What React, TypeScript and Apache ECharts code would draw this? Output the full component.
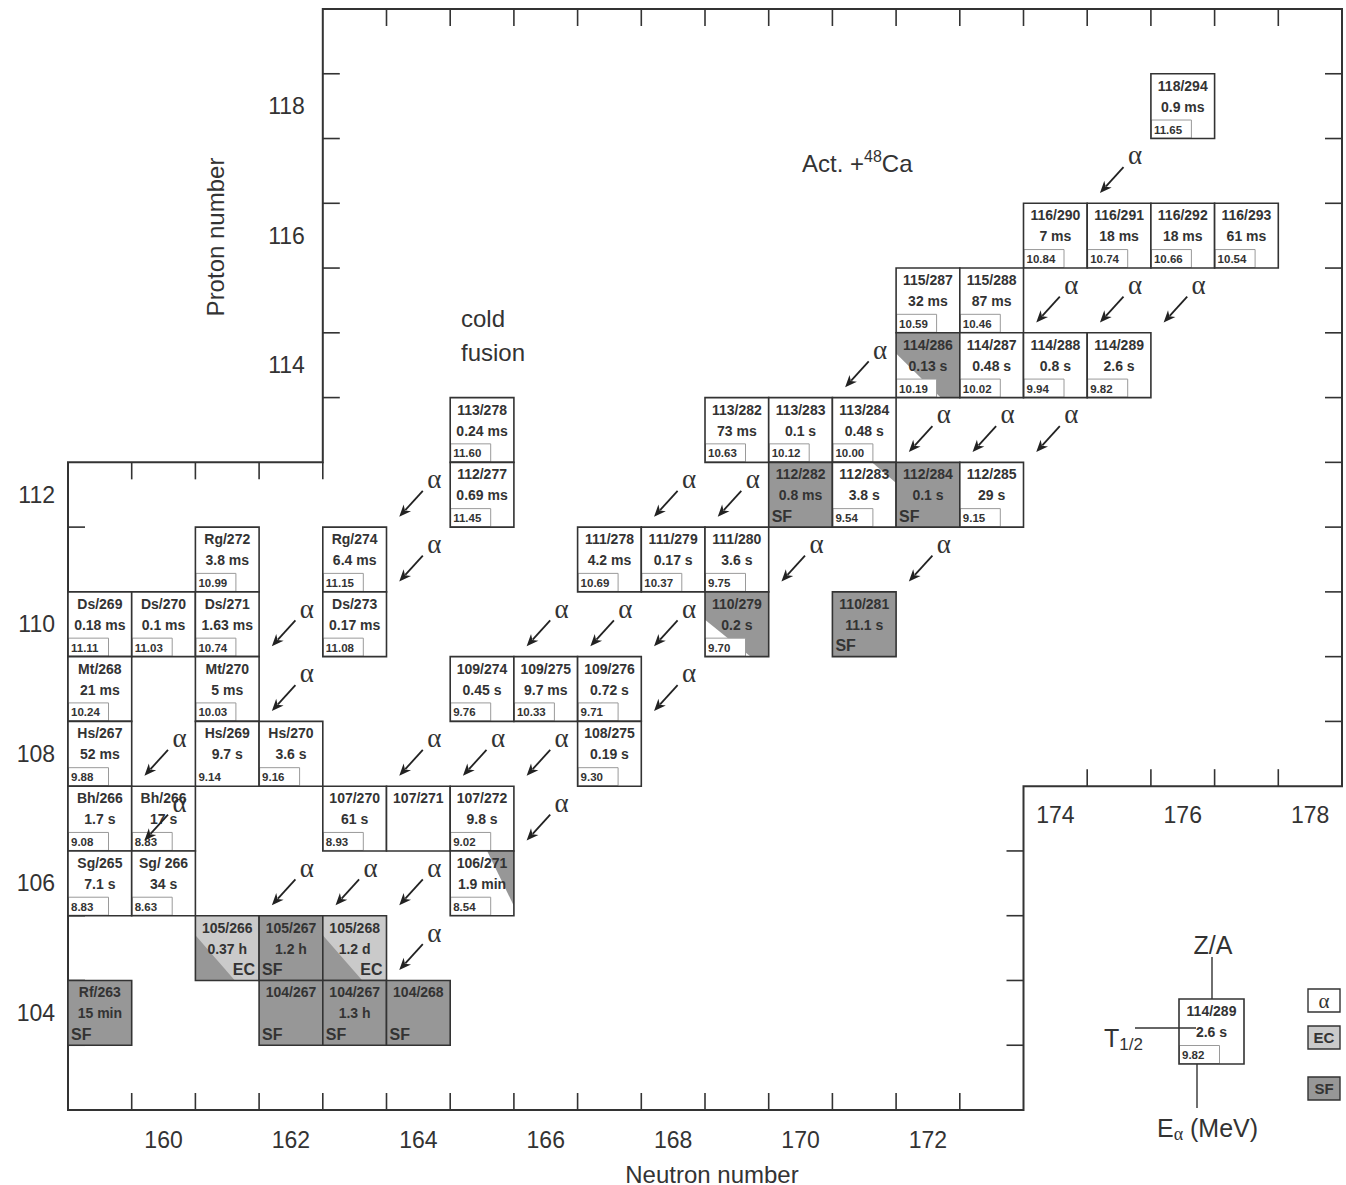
import React, { useEffect, useRef } from "react";
import * as echarts from "echarts";

// Nuclides: [label, neutron number N, proton number Z, half-life, E_alpha (MeV), decay style]
type Nuclide = [string, number, number, string, string, string];

const nuclides: Nuclide[] = [
  ["118/294", 176, 118, "0.9 ms", "11.65", "A"],
  ["116/290", 174, 116, "7 ms", "10.84", "A"],
  ["116/291", 175, 116, "18 ms", "10.74", "A"],
  ["116/292", 176, 116, "18 ms", "10.66", "A"],
  ["116/293", 177, 116, "61 ms", "10.54", "A"],
  ["115/287", 172, 115, "32 ms", "10.59", "A"],
  ["115/288", 173, 115, "87 ms", "10.46", "A"],
  ["114/286", 172, 114, "0.13 s", "10.19", "SFA1"],
  ["114/287", 173, 114, "0.48 s", "10.02", "A"],
  ["114/288", 174, 114, "0.8 s", "9.94", "A"],
  ["114/289", 175, 114, "2.6 s", "9.82", "A"],
  ["113/278", 165, 113, "0.24 ms", "11.60", "A"],
  ["113/282", 169, 113, "73 ms", "10.63", "A"],
  ["113/283", 170, 113, "0.1 s", "10.12", "A"],
  ["113/284", 171, 113, "0.48 s", "10.00", "A"],
  ["112/277", 165, 112, "0.69 ms", "11.45", "A"],
  ["112/282", 170, 112, "0.8 ms", "", "SF"],
  ["112/283", 171, 112, "3.8 s", "9.54", "AT"],
  ["112/284", 172, 112, "0.1 s", "", "SF"],
  ["112/285", 173, 112, "29 s", "9.15", "A"],
  ["Rg/272", 161, 111, "3.8 ms", "10.99", "A"],
  ["Rg/274", 163, 111, "6.4 ms", "11.15", "A"],
  ["111/278", 167, 111, "4.2 ms", "10.69", "A"],
  ["111/279", 168, 111, "0.17 s", "10.37", "A"],
  ["111/280", 169, 111, "3.6 s", "9.75", "A"],
  ["Ds/269", 159, 110, "0.18 ms", "11.11", "A"],
  ["Ds/270", 160, 110, "0.1 ms", "11.03", "A"],
  ["Ds/271", 161, 110, "1.63 ms", "10.74", "A"],
  ["Ds/273", 163, 110, "0.17 ms", "11.08", "A"],
  ["110/279", 169, 110, "0.2 s", "9.70", "SFA2"],
  ["110/281", 171, 110, "11.1 s", "", "SF"],
  ["Mt/268", 159, 109, "21 ms", "10.24", "A"],
  ["Mt/270", 161, 109, "5 ms", "10.03", "A"],
  ["109/274", 165, 109, "0.45 s", "9.76", "A"],
  ["109/275", 166, 109, "9.7 ms", "10.33", "A"],
  ["109/276", 167, 109, "0.72 s", "9.71", "A"],
  ["Hs/267", 159, 108, "52 ms", "9.88", "A"],
  ["Hs/269", 161, 108, "9.7 s", "9.14", "A"],
  ["Hs/270", 162, 108, "3.6 s", "9.16", "A"],
  ["108/275", 167, 108, "0.19 s", "9.30", "A"],
  ["Bh/266", 159, 107, "1.7 s", "9.08", "A"],
  ["Bh/266", 160, 107, "17 s", "8.83", "A"],
  ["107/270", 163, 107, "61 s", "8.93", "A"],
  ["107/271", 164, 107, "", "", "A"],
  ["107/272", 165, 107, "9.8 s", "9.02", "A"],
  ["Sg/265", 159, 106, "7.1 s", "8.83", "A"],
  ["Sg/ 266", 160, 106, "34 s", "8.63", "A"],
  ["106/271", 165, 106, "1.9 min", "8.54", "AR"],
  ["105/266", 161, 105, "0.37 h", "", "EC"],
  ["105/267", 162, 105, "1.2 h", "", "SF"],
  ["105/268", 163, 105, "1.2 d", "", "EC"],
  ["Rf/263", 159, 104, "15 min", "", "SF"],
  ["104/267", 162, 104, "", "", "SF"],
  ["104/267", 163, 104, "1.3 h", "", "SF"],
  ["104/268", 164, 104, "", "", "SF"],
];

// Energies printed without a frame
const unboxedEnergy = ["Hs/269"];

// Parents (N, Z) of the drawn alpha-decay arrows
const alphaParents: [number, number][] = [
  [176, 118], [175, 116], [176, 116], [177, 116], [172, 115],
  [173, 114], [174, 114], [175, 114], [165, 113], [169, 113],
  [170, 113], [165, 112], [171, 112], [173, 112], [163, 111],
  [167, 111], [168, 111], [169, 111], [163, 110], [169, 110],
  [161, 109], [165, 109], [166, 109], [167, 109], [161, 108],
  [167, 108], [163, 107], [164, 107], [165, 107], [165, 106],
];

const bottomTickLabels = [160, 162, 164, 166, 168, 170, 172];
const stepTickLabels = [174, 176, 178];
const lowerProtonLabels = [104, 106, 108, 110, 112];
const upperProtonLabels = [114, 116, 118];

// Staircase outline of the chart area (N, Z)
const frameCorners: [number, number][] = [
  [158.5, 112.5], [162.5, 112.5], [162.5, 119.5], [178.5, 119.5],
  [178.5, 107.5], [173.5, 107.5], [173.5, 102.5], [158.5, 102.5],
];

// Tick rows along the outline: [orientation, fixed coord, from, to, inward pixel sign]
const tickEdges: [string, number, number, number, number][] = [
  ["h", 102.5, 159.5, 172.5, -1],
  ["v", 158.5, 103.5, 111.5, 1],
  ["h", 112.5, 159.5, 162.5, 1],
  ["v", 162.5, 113.5, 118.5, 1],
  ["h", 119.5, 163.5, 177.5, 1],
  ["v", 178.5, 108.5, 118.5, -1],
  ["h", 107.5, 174.5, 177.5, -1],
  ["v", 173.5, 103.5, 106.5, -1],
];

const DARK = "#979797";
const LIGHT = "#cacaca";
const INK = "#333333";
const SANS = '"Liberation Sans", Arial, sans-serif';
const SERIF = '"Liberation Serif", "Times New Roman", serif';

// Partly shaded cells: base colour plus a triangle given in cell fractions
const partialShade: Record<string, { base: string; tri: string; pts: number[][] }> = {
  SFA1: { base: DARK, tri: "#ffffff", pts: [[0, 0.32], [0, 1], [0.7, 1]] },
  SFA2: { base: DARK, tri: "#ffffff", pts: [[0, 0.43], [0, 1], [0.72, 1]] },
  AT: { base: "#ffffff", tri: DARK, pts: [[0.62, 0], [1, 0], [1, 0.32]] },
  AR: { base: "#ffffff", tri: DARK, pts: [[0.58, 0], [1, 0], [1, 0.85]] },
  EC: { base: LIGHT, tri: DARK, pts: [[0, 0.3], [0, 1], [0.62, 1]] },
};

function txt(x: number, y: number, text: string, font: string, align = "center", vAlign = "middle", fill = INK): any {
  return {
    type: "text",
    x,
    y,
    style: { text, font, fill, align, verticalAlign: vAlign, textAlign: align, textVerticalAlign: vAlign },
  };
}

function cellElements(x: number, y: number, w: number, h: number, d: Nuclide): any[] {
  const [label, , , half, energy, mode] = d;
  const els: any[] = [];
  const shade = partialShade[mode];
  let base = "#ffffff";
  if (mode === "SF") base = DARK;
  if (shade) base = shade.base;
  els.push({ type: "rect", shape: { x, y, width: w, height: h }, style: { fill: base } });
  if (shade) {
    els.push({
      type: "polygon",
      shape: { points: shade.pts.map(([u, v]) => [x + u * w, y + v * h]) },
      style: { fill: shade.tri },
    });
  }
  if (energy) {
    if (unboxedEnergy.indexOf(label) < 0) {
      els.push({
        type: "rect",
        shape: { x: x + 0.5, y: y + h - 18.5, width: 40, height: 18 },
        style: { fill: "#ffffff", stroke: "#9a9a9a", lineWidth: 1 },
      });
    }
    els.push(txt(x + 3, y + h - 9, energy, `bold 11.5px ${SANS}`, "left"));
  }
  els.push({
    type: "rect",
    shape: { x, y, width: w, height: h },
    style: { fill: "none", stroke: INK, lineWidth: 1.6 },
  });
  els.push(txt(x + w / 2, y + 12, label, `bold 14px ${SANS}`));
  if (half) els.push(txt(x + w / 2, y + 33, half, `bold 14px ${SANS}`));
  if (mode === "SF") els.push(txt(x + 3, y + h - 11, "SF", `bold 16px ${SANS}`, "left"));
  if (mode === "EC") els.push(txt(x + w - 4, y + h - 11, "EC", `bold 16px ${SANS}`, "right"));
  return els;
}

function buildOption(): any {
  const frameSeries = {
    type: "custom",
    clip: false,
    silent: true,
    z: 1,
    data: [[158.5, 102.5]],
    encode: { x: 0, y: 1 },
    renderItem: (_p: any, api: any) => {
      const pts = frameCorners.map((c) => api.coord(c));
      const children: any[] = [
        { type: "polygon", shape: { points: pts }, style: { fill: "none", stroke: INK, lineWidth: 2 } },
      ];
      const TL = 17;
      tickEdges.forEach(([o, fixed, from, to, sign]) => {
        for (let v = from; v <= to + 1e-6; v += 1) {
          const p = o === "h" ? api.coord([v, fixed]) : api.coord([fixed, v]);
          const shape =
            o === "h"
              ? { x1: p[0], y1: p[1], x2: p[0], y2: p[1] + sign * TL }
              : { x1: p[0], y1: p[1], x2: p[0] + sign * TL, y2: p[1] };
          children.push({ type: "line", shape, style: { stroke: INK, lineWidth: 1.6 } });
        }
      });
      return { type: "group", children };
    },
  };

  const labelFont = `23px ${SANS}`;
  const mkLabelSeries = (data: number[][], dx: number, dy: number, align: string) => ({
    type: "custom",
    clip: false,
    silent: true,
    z: 2,
    data,
    encode: { x: 0, y: 1 },
    renderItem: (p: any, api: any) => {
      const c = api.coord([api.value(0), api.value(1)]);
      const val = data[p.dataIndex];
      const text = String(dx === 0 ? val[0] : val[1]);
      return txt(c[0] + dx, c[1] + dy, text, labelFont, align);
    },
  });

  const cellSeries = {
    type: "custom",
    clip: false,
    silent: true,
    z: 3,
    data: nuclides.map((d) => [d[1], d[2]]),
    encode: { x: 0, y: 1 },
    renderItem: (p: any, api: any) => {
      const d = nuclides[p.dataIndex];
      const tl = api.coord([d[1] - 0.5, d[2] + 0.5]);
      const br = api.coord([d[1] + 0.5, d[2] - 0.5]);
      return { type: "group", children: cellElements(tl[0], tl[1], br[0] - tl[0], br[1] - tl[1], d) };
    },
  };

  const arrowSeries = {
    type: "custom",
    clip: false,
    silent: true,
    z: 4,
    data: alphaParents,
    encode: { x: 0, y: 1 },
    renderItem: (_p: any, api: any) => {
      const n = api.value(0);
      const z = api.value(1);
      const lab = api.coord([n - 0.75, z - 0.76]);
      const tail = api.coord([n - 0.93, z - 0.94]);
      const head = api.coord([n - 1.3, z - 1.34]);
      const dx = head[0] - tail[0];
      const dy = head[1] - tail[1];
      const len = Math.sqrt(dx * dx + dy * dy);
      const ux = dx / len;
      const uy = dy / len;
      const L = 12;
      const W = 5;
      const bx = head[0] - ux * L;
      const by = head[1] - uy * L;
      return {
        type: "group",
        children: [
          {
            type: "line",
            shape: { x1: tail[0], y1: tail[1], x2: bx + ux * 3, y2: by + uy * 3 },
            style: { stroke: "#222", lineWidth: 1.8 },
          },
          {
            type: "polygon",
            shape: {
              points: [
                [head[0], head[1]],
                [bx - uy * W, by + ux * W],
                [bx + ux * 3.5, by + uy * 3.5],
                [bx + uy * W, by - ux * W],
              ],
            },
            style: { fill: "#222" },
          },
          txt(lab[0], lab[1], "α", `27px ${SERIF}`),
        ],
      };
    },
  };

  // Explanatory cell and decay-mode key
  const keyCell: Nuclide = ["114/289", 0, 0, "2.6 s", "9.82", "A"];
  const legendElements: any[] = [
    { type: "group", children: cellElements(1179, 999, 65, 65, keyCell) },
    { type: "line", shape: { x1: 1212, y1: 957, x2: 1212, y2: 999 }, style: { stroke: INK, lineWidth: 1.4 } },
    { type: "line", shape: { x1: 1135, y1: 1028, x2: 1196, y2: 1028 }, style: { stroke: INK, lineWidth: 1.4 } },
    { type: "line", shape: { x1: 1197, y1: 1064, x2: 1197, y2: 1108 }, style: { stroke: INK, lineWidth: 1.4 } },
    txt(1213, 945, "Z/A", `25px ${SANS}`),
    {
      type: "text",
      x: 1104,
      y: 1038,
      style: {
        text: "{t|T}{s|1/2}",
        align: "left",
        verticalAlign: "middle",
        textAlign: "left",
        textVerticalAlign: "middle",
        rich: {
          t: { font: `25px ${SANS}`, fill: INK, lineHeight: 30, verticalAlign: "middle" },
          s: { font: `17px ${SANS}`, fill: INK, lineHeight: 12, verticalAlign: "bottom" },
        },
      },
    },
    {
      type: "text",
      x: 1157,
      y: 1128,
      style: {
        text: "{t|E}{s|α}{t| (MeV)}",
        align: "left",
        verticalAlign: "middle",
        textAlign: "left",
        textVerticalAlign: "middle",
        rich: {
          t: { font: `25px ${SANS}`, fill: INK, lineHeight: 30, verticalAlign: "middle" },
          s: { font: `18px ${SERIF}`, fill: INK, lineHeight: 12, verticalAlign: "bottom" },
        },
      },
    },
  ];
  const keyBoxes: [string, string, number][] = [
    ["α", "#ffffff", 989],
    ["EC", LIGHT, 1026],
    ["SF", DARK, 1077],
  ];
  keyBoxes.forEach(([t, fill, y]) => {
    legendElements.push({
      type: "rect",
      shape: { x: 1308, y, width: 32, height: 23 },
      style: { fill, stroke: INK, lineWidth: 1.4 },
    });
    legendElements.push(
      txt(1324, y + 11.5, t, t === "α" ? `21px ${SERIF}` : `bold 15px ${SANS}`)
    );
  });

  const annotations: any[] = [
    txt(461, 318, "cold", `24px ${SANS}`, "left"),
    txt(461, 352, "fusion", `24px ${SANS}`, "left"),
    {
      type: "text",
      x: 802,
      y: 163,
      style: {
        text: "{t|Act. +}{s|48}{t|Ca}",
        align: "left",
        verticalAlign: "middle",
        textAlign: "left",
        textVerticalAlign: "middle",
        rich: {
          t: { font: `24px ${SANS}`, fill: INK, lineHeight: 30, verticalAlign: "middle" },
          s: { font: `16px ${SANS}`, fill: INK, lineHeight: 14, verticalAlign: "top" },
        },
      },
    },
    {
      type: "text",
      x: 215,
      y: 237,
      rotation: Math.PI / 2,
      style: {
        text: "Proton number",
        font: `24px ${SANS}`,
        fill: INK,
        align: "center",
        verticalAlign: "middle",
        textAlign: "center",
        textVerticalAlign: "middle",
      },
    },
    txt(712, 1174, "Neutron number", `24px ${SANS}`),
  ];

  return {
    animation: false,
    backgroundColor: "#ffffff",
    grid: { left: 68, top: 9, right: 4, bottom: 75 },
    xAxis: { type: "value", min: 158.5, max: 178.5, show: false },
    yAxis: { type: "value", min: 102.5, max: 119.5, show: false },
    series: [
      frameSeries,
      mkLabelSeries(bottomTickLabels.map((v) => [v, 102.5]), 0, 30, "center"),
      mkLabelSeries(stepTickLabels.map((v) => [v, 107.5]), 0, 29, "center"),
      mkLabelSeries(lowerProtonLabels.map((v) => [158.5, v]), -13, 0, "right"),
      mkLabelSeries(upperProtonLabels.map((v) => [162.5, v]), -18, 0, "right"),
      cellSeries,
      arrowSeries,
    ],
    graphic: { elements: [...annotations, ...legendElements] },
  };
}

export default function App() {
  const ref = useRef<HTMLDivElement>(null);
  useEffect(() => {
    if (!ref.current) return;
    const chart = echarts.init(ref.current, undefined, { renderer: "svg" });
    chart.setOption(buildOption());
    return () => chart.dispose();
  }, []);
  return (
    <div
      ref={ref}
      style={{ position: "fixed", left: 0, top: 0, width: 1346, height: 1185, background: "#fff" }}
    />
  );
}
